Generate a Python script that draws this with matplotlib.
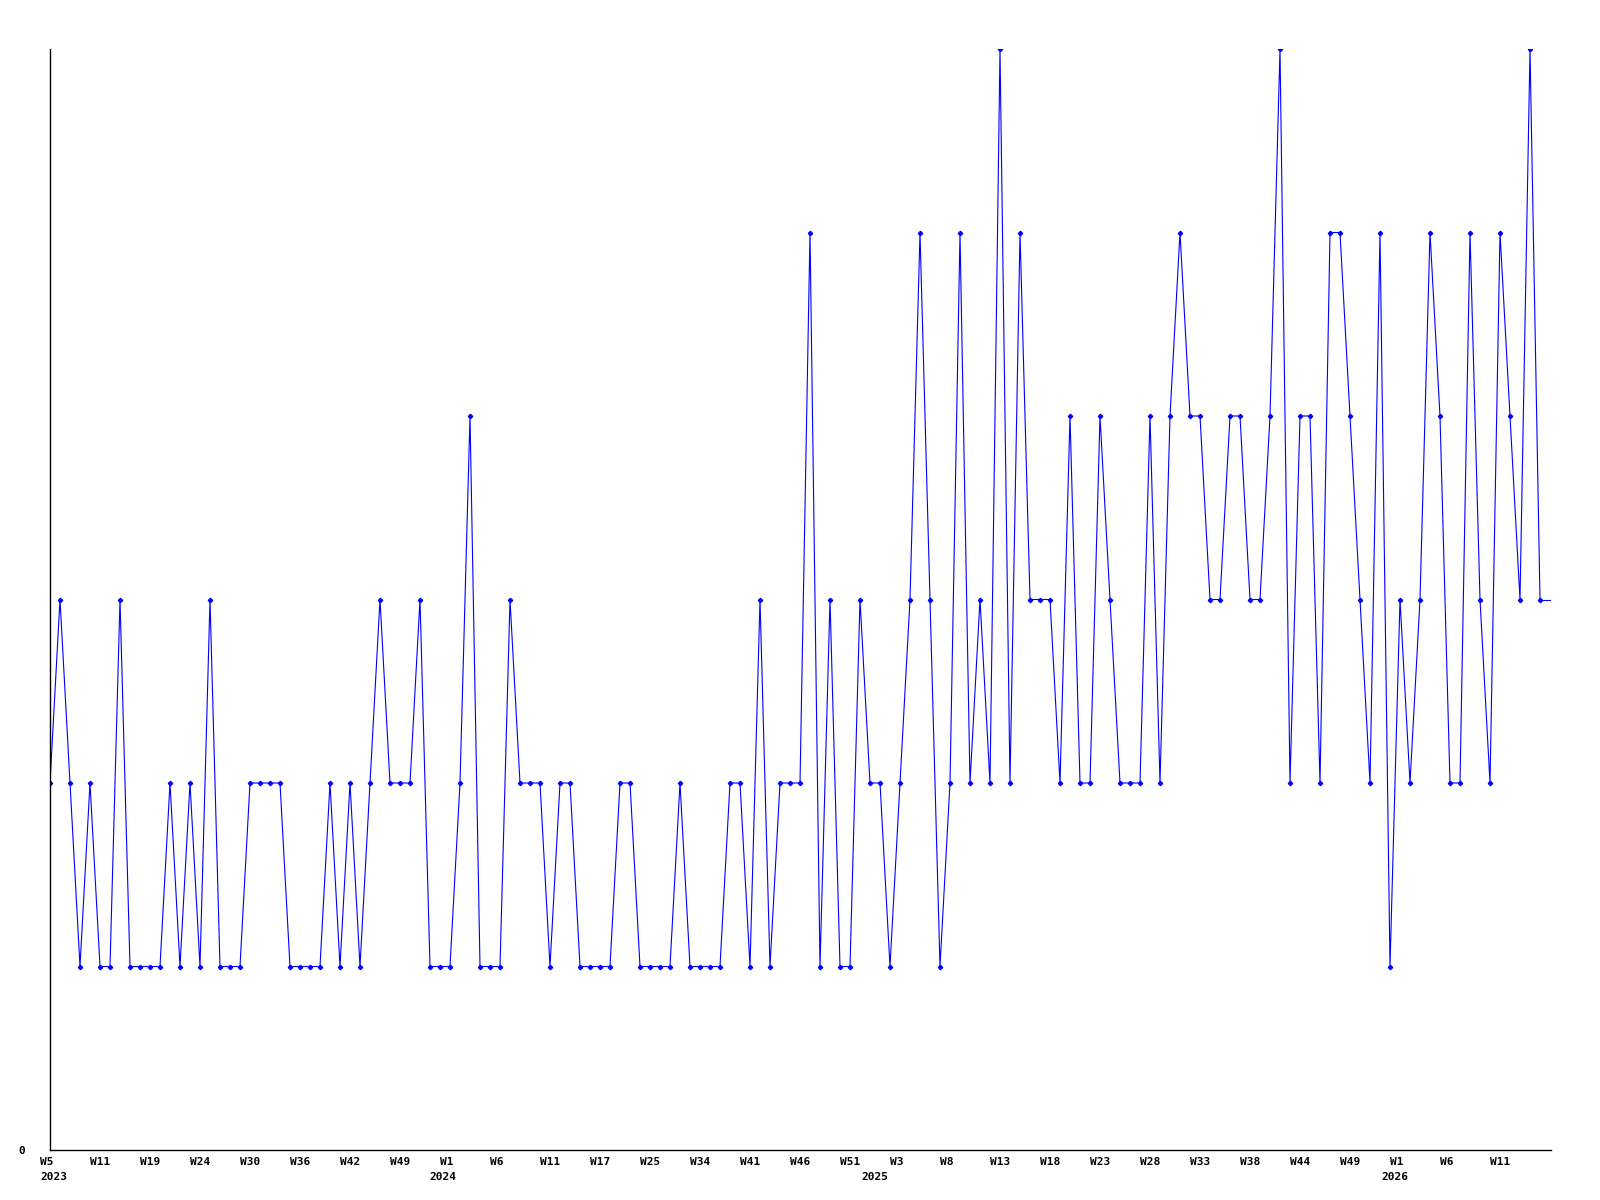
import matplotlib

matplotlib.use("Agg")
import matplotlib.pyplot as plt
import numpy as np

LINE_BLUE = "#0000ff"
FONT = "DejaVu Sans Mono"

# weekly values, one point per reported week
values = [
    2, 3, 2, 1, 2, 1, 1, 3, 1, 1,
    1, 1, 2, 1, 2, 1, 3, 1, 1, 1,
    2, 2, 2, 2, 1, 1, 1, 1, 2, 1,
    2, 1, 2, 3, 2, 2, 2, 3, 1, 1,
    1, 2, 4, 1, 1, 1, 3, 2, 2, 2,
    1, 2, 2, 1, 1, 1, 1, 2, 2, 1,
    1, 1, 1, 2, 1, 1, 1, 1, 2, 2,
    1, 3, 1, 2, 2, 2, 5, 1, 3, 1,
    1, 3, 2, 2, 1, 2, 3, 5, 3, 1,
    2, 5, 2, 3, 2, 6, 2, 5, 3, 3,
    3, 2, 4, 2, 2, 4, 3, 2, 2, 2,
    4, 2, 4, 5, 4, 4, 3, 3, 4, 4,
    3, 3, 4, 6, 2, 4, 4, 2, 5, 5,
    4, 3, 2, 5, 1, 3, 2, 3, 5, 4,
    2, 2, 5, 3, 2, 5, 4, 3, 6, 3,
]

# a label every 5th point
week_labels = [
    "W5", "W11", "W19", "W24", "W30", "W36", "W42", "W49", "W1", "W6",
    "W11", "W17", "W25", "W34", "W41", "W46", "W51", "W3", "W8", "W13",
    "W18", "W23", "W28", "W33", "W38", "W44", "W49", "W1", "W6", "W11",
]
year_labels = ["2023", "2024", "2025", "2026"]
year_pos = [-0.4, 39.3, 82.5, 134.5]


def main() -> None:
    fig = plt.figure(figsize=(16, 12), dpi=100)
    ax = fig.add_axes([50 / 1600, 50 / 1200, 1501 / 1600, 1101 / 1200])

    x = np.arange(len(values))
    x_end = len(values) - 1 + 1.1
    ax.plot(x, values, color=LINE_BLUE, linewidth=0.8, marker="D",
            markersize=2.2)
    # trailing segment to the right edge
    ax.plot([x[-1], x_end], [values[-1], values[-1]], color=LINE_BLUE,
            linewidth=0.8)

    ax.set_xlim(0, x_end)
    ax.set_ylim(0, 6)
    for side in ("top", "right"):
        ax.spines[side].set_visible(False)
    for side in ("left", "bottom"):
        ax.spines[side].set_color("black")
        ax.spines[side].set_linewidth(1.0)

    ax.set_xticks([])
    ax.set_yticks([0])
    ax.set_yticklabels(["0"], fontfamily=FONT, fontweight="bold", fontsize=8)
    ax.tick_params(axis="y", length=0, pad=18)

    for k, lab in enumerate(week_labels):
        ax.annotate(lab, xy=(k * 5, 0), xycoords=("data", "axes fraction"),
                    xytext=(-10, -7), textcoords="offset pixels",
                    ha="left", va="top", fontfamily=FONT, fontweight="bold",
                    fontsize=8, annotation_clip=False)
    for lab, pos in zip(year_labels, year_pos):
        ha = "left" if pos < 0 else "center"
        ax.annotate(lab, xy=(pos, 0), xycoords=("data", "axes fraction"),
                    xytext=(-6 if pos < 0 else 0, -22), textcoords="offset pixels",
                    ha=ha, va="top", fontfamily=FONT, fontweight="bold",
                    fontsize=8, annotation_clip=False)

    fig.savefig("out.png", dpi=100)
    plt.close(fig)


if __name__ == "__main__":
    main()
